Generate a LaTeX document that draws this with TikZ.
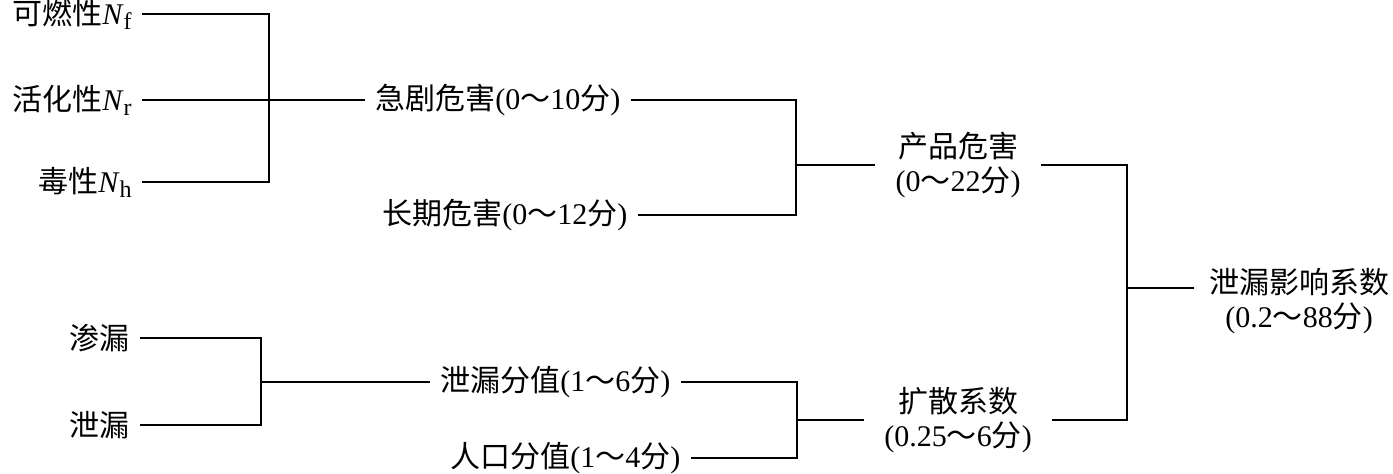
\documentclass[tikz,border=0pt]{standalone}
\usepackage{fontspec}
\setmainfont{Liberation Serif}
\newfontfamily\cjk{Noto Sans CJK SC}
\usetikzlibrary{calc}
\newcommand{\zh}[1]{{\cjk #1}}
\newcommand{\subsc}[1]{\raisebox{-0.35ex}{\fontsize{18}{18}\selectfont #1}}
\begin{document}
\begin{tikzpicture}[x=0.75pt,y=-0.75pt,
  lbl/.style={inner ysep=0pt, inner xsep=7.5pt, font=\fontsize{22.5}{25.5}\selectfont, align=center},
  wide/.style={lbl, inner xsep=15pt},
  ln/.style={line width=1.5pt}]
\useasboundingbox (0,0) rectangle (1393,474);
% left-most labels
\node[lbl,anchor=east] (fN) at (142,14) {\zh{可燃性}\textit{N}\subsc{f}};
\node[lbl,anchor=east] (rN) at (142,100) {\zh{活化性}\textit{N}\subsc{r}};
\node[lbl,anchor=east] (hN) at (142,182) {\zh{毒性}\textit{N}\subsc{h}};
\node[lbl,anchor=east] (sL) at (140,338) {\zh{渗漏}};
\node[lbl,anchor=east] (xL) at (140,425) {\zh{泄漏}};
% second column
\node[lbl,anchor=west] (a1) at (365,100) {\zh{急剧危害}(0\zh{～}10\zh{分})};
\node[lbl,anchor=west] (a2) at (372,215) {\zh{长期危害}(0\zh{～}12\zh{分})};
\node[lbl,anchor=west] (b1) at (430,382) {\zh{泄漏分值}(1\zh{～}6\zh{分})};
\node[lbl,anchor=west] (b2) at (440,458) {\zh{人口分值}(1\zh{～}4\zh{分})};
% third column
\node[wide] (P) at (958,165) {\zh{产品危害}\\(0\zh{～}22\zh{分})};
\node[wide] (D) at (958,420) {\zh{扩散系数}\\(0.25\zh{～}6\zh{分})};
% result
\node[lbl,inner xsep=11pt] (T) at (1299,301) {\zh{泄漏影响系数}\\(0.2\zh{～}88\zh{分})};
% junctions
\coordinate (jA) at (269,100);
\coordinate (jB) at (261,382);
\coordinate (jC) at (796,165);
\coordinate (jD) at (797,420);
\coordinate (jE) at (1127,288);
% connectors
\draw[ln] (fN.east) -| (jA |- hN.east) -- (hN.east);
\draw[ln] (rN.east) -- (a1.west);
\draw[ln] (sL.east) -| (jB |- xL.east) -- (xL.east);
\draw[ln] (jB) -- (b1.west);
\draw[ln] (a1.east) -| (jC |- a2.east) -- (a2.east);
\draw[ln] (jC) -- (P.west);
\draw[ln] (b1.east) -| (jD |- b2.east) -- (b2.east);
\draw[ln] (jD) -- (D.west);
\draw[ln] (P.east) -| (jE |- D.east) -- (D.east);
\draw[ln] (jE) -- (jE -| T.west);
\end{tikzpicture}
\end{document}
